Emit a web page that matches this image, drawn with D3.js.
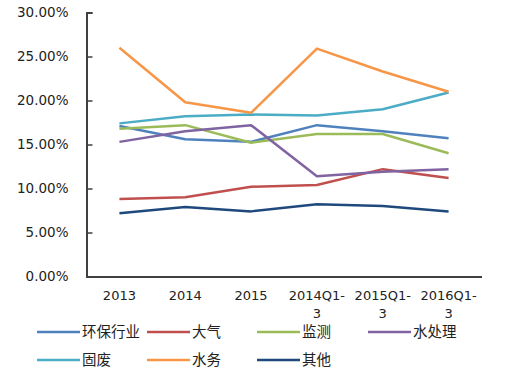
<!DOCTYPE html>
<html><head><meta charset="utf-8">
<script src="https://cdn.jsdelivr.net/npm/d3@7/dist/d3.min.js"></script>
<style>body{margin:0;background:#fff;}svg{display:block;}</style>
</head><body>
<svg id="c" width="512" height="381"></svg>
<script>
const categories = ["2013","2014","2015","2014Q1-3","2015Q1-3","2016Q1-3"];
const seriesNames = ["环保行业","大气","监测","水处理","固废","水务","其他"];
const s环保行业 = [17.1, 15.6, 15.3, 17.2, 16.5, 15.7];
const s大气 = [8.8, 9.0, 10.2, 10.4, 12.2, 11.2];
const s监测 = [16.8, 17.2, 15.2, 16.2, 16.2, 14.0];
const s水处理 = [15.3, 16.5, 17.2, 11.4, 11.9, 12.2];
const s固废 = [17.4, 18.2, 18.4, 18.3, 19.0, 20.9];
const s水务 = [26.0, 19.8, 18.6, 25.9, 23.3, 21.0];
const s其他 = [7.2, 7.9, 7.4, 8.2, 8.0, 7.4];
const yTicks = [0, 5, 10, 15, 20, 25, 30];
const colors = ["#4F81BD","#C0504D","#9BBB59","#8064A2","#4BACC6","#F79646","#1F497D"];

const seriesValues = [s环保行业, s大气, s监测, s水处理, s固废, s水务, s其他];
const series = seriesNames.map((n,i)=>({name:n, values:seriesValues[i], color:colors[i]}));

const svg = d3.select("#c");
const x = d3.scaleBand().domain(categories).range([86.5, 481.5]);
const y = d3.scaleLinear().domain([0,30]).range([276.5, 12.5]);
const font = "'DejaVu Sans', Verdana, sans-serif";

// y axis
const ya = svg.append("g").attr("transform","translate(86.5,0)")
  .call(d3.axisLeft(y).tickValues(yTicks).tickSize(-6).tickFormat(d=>d.toFixed(2)+"%").tickPadding(18));
ya.select(".domain").attr("stroke","#404040").attr("stroke-width",2);
ya.selectAll(".tick line").attr("stroke","#404040").attr("stroke-width",1.5);
ya.selectAll(".tick text").attr("font-family",font).attr("font-size","13.5px").attr("fill","#222");

// x axis
const xa = svg.append("g").attr("transform","translate(0,276.5)")
  .call(d3.axisBottom(x).tickSize(0).tickPadding(14).tickFormat(""));
xa.select(".domain").attr("stroke","#404040").attr("stroke-width",2);
xa.selectAll(".tick").each(function(d){
  const t = d3.select(this).append("text").attr("fill","#222").attr("font-family",font)
    .attr("font-size","13px").attr("text-anchor","middle").attr("y",23);
  const m = d.match(/^(.*-)(\d)$/);
  if(m){
    t.append("tspan").attr("x",0).text(m[1]);
    t.append("tspan").attr("x",0).attr("dy",18).text(m[2]);
  } else t.text(d);
});

// lines
const line = d3.line().x((d,i)=>x(categories[i])+x.bandwidth()/2).y(d=>y(d));
svg.append("g").selectAll("path").data(series).join("path")
  .attr("d",d=>line(d.values)).attr("fill","none").attr("stroke",d=>d.color)
  .attr("stroke-width",2.5).attr("stroke-linejoin","round");

// legend
const legX = [37, 147, 257, 368];
const legY = [332, 360];
const lg = svg.append("g");
series.forEach((s,i)=>{
  const r = Math.floor(i/4), c = i%4;
  const gx = legX[c], gy = legY[r];
  lg.append("line").attr("x1",gx).attr("x2",gx+43).attr("y1",gy).attr("y2",gy)
    .attr("stroke",s.color).attr("stroke-width",2.5);
  lg.append("text").attr("x",gx+45).attr("y",gy+5).attr("font-family","'Noto Sans CJK SC', sans-serif")
    .attr("font-size","14.5px").attr("fill","#222").text(s.name);
});
</script>
</body></html>
